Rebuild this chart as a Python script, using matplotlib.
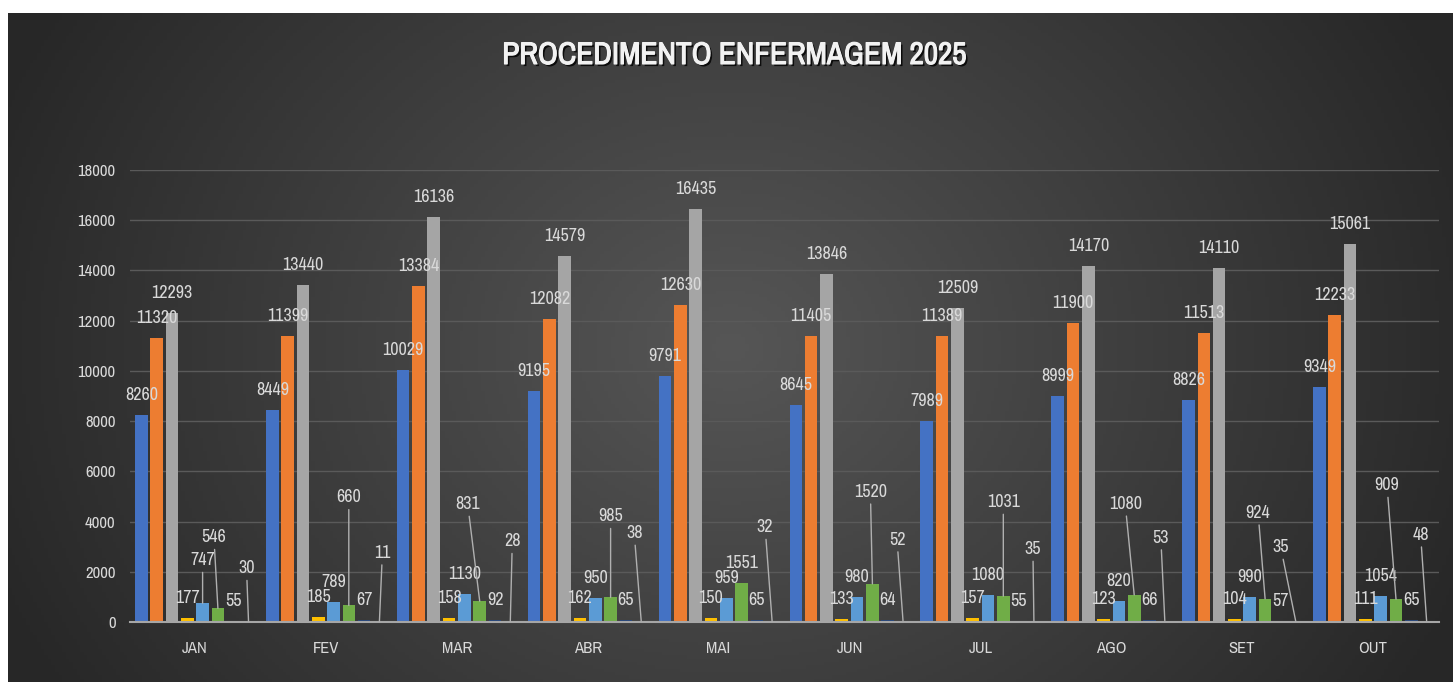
import matplotlib.pyplot as plt
import matplotlib.patheffects as pe
from matplotlib import font_manager
import numpy as np

# dados
meses = ['JAN', 'FEV', 'MAR', 'ABR', 'MAI', 'JUN', 'JUL', 'AGO', 'SET', 'OUT']
serie1 = [8260, 8449, 10029, 9195, 9791, 8645, 7989, 8999, 8826, 9349]
serie2 = [11320, 11399, 13384, 12082, 12630, 11405, 11389, 11900, 11513, 12233]
serie3 = [12293, 13440, 16136, 14579, 16435, 13846, 12509, 14170, 14110, 15061]
serie4 = [177, 185, 158, 162, 150, 133, 157, 123, 104, 111]
serie5 = [747, 789, 1130, 950, 959, 980, 1080, 820, 990, 1054]
serie6 = [546, 660, 831, 985, 1551, 1520, 1031, 1080, 924, 909]
serie7 = [55, 67, 92, 65, 65, 64, 55, 66, 57, 65]
serie8 = [30, 11, 28, 38, 32, 52, 35, 53, 35, 48]
series = [serie1, serie2, serie3, serie4, serie5, serie6, serie7, serie8]

cores = ['#4472C4', '#ED7D31', '#A5A5A5', '#FFC000',
         '#5B9BD5', '#70AD47', '#264478', '#9E480E']

# rotulos deslocados (dx, altura em pixels acima da barra) -> com linha guia
guias = {
    (4, 0): (0, 43),
    (5, 0): (-4, 71), (5, 1): (0, 108), (5, 2): (-12, 97), (5, 3): (0, 81),
    (5, 5): (-2, 92), (5, 6): (0, 94), (5, 7): (-9, 91), (5, 8): (-7, 86),
    (5, 9): (-9, 114),
    (7, 0): (-2, 53), (7, 1): (3, 69), (7, 2): (2, 80), (7, 3): (-7, 88),
    (7, 4): (-7, 94), (7, 5): (-6, 81), (7, 6): (-1, 72), (7, 7): (-4, 83),
    (7, 8): (-15, 74), (7, 9): (-6, 86),
}

# fonte estreita se houver, senao Liberation Sans
nomes = {f.name for f in font_manager.fontManager.ttflist}
estreita = [n for n in nomes if 'Condensed' in n or 'Narrow' in n]
condensada = False
if 'Liberation Sans Narrow' in nomes:
    fonte = ['Liberation Sans Narrow', 'DejaVu Sans']
    condensada = True
elif estreita:
    fonte = [sorted(estreita)[0], 'DejaVu Sans']
    condensada = True
else:
    fonte = ['Liberation Sans', 'DejaVu Sans']

tam_rot = 13 if condensada else 11
tam_eixo = 12 if condensada else 10.5
tam_tit = 22.5 if condensada else 18

cor_texto = '#d9d9d9'

W, H = 1453, 682
fig = plt.figure(figsize=(W / 100, H / 100), dpi=100)
fig.patch.set_facecolor('white')

# fundo com degrade radial
bg = fig.add_axes([8 / W, 0, 1 - 8 / W, 669 / H])
gx, gy = np.meshgrid(np.linspace(0, 1, 400), np.linspace(0, 1, 200))
d = np.sqrt(((gx - 0.5) / 0.55) ** 2 + ((gy - 0.5) / 1.0) ** 2)
d = np.clip(d, 0, 1)
c0 = np.array([0x56, 0x56, 0x56]) / 255
c1 = np.array([0x27, 0x27, 0x27]) / 255
img = c0[None, None, :] * (1 - d[..., None]) + c1[None, None, :] * d[..., None]
bg.imshow(img, aspect='auto', extent=[0, 1, 0, 1], origin='lower')
bg.axis('off')

ax = fig.add_axes([129.5 / W, 60 / H, 1309 / W, 452 / H])
ax.set_facecolor('none')

x = np.arange(len(meses))
slot = 0.1169
largura = 0.0963
for j, (vals, cor) in enumerate(zip(series, cores)):
    pos = x + (j - 3.5) * slot
    ax.bar(pos, vals, width=largura, color=cor, zorder=3)
    for i, v in enumerate(vals):
        if (j, i) in guias:
            dx, dy = guias[(j, i)]
            ax.annotate(str(v), xy=(pos[i], v), xytext=(dx, dy),
                        textcoords='offset pixels', ha='center', va='center',
                        fontsize=tam_rot, family=fonte, color=cor_texto, zorder=5,
                        arrowprops=dict(arrowstyle='-', color='#b0b0b0', lw=1,
                                        shrinkA=1, shrinkB=0))
        else:
            ax.annotate(str(v), xy=(pos[i], v), xytext=(0, 20),
                        textcoords='offset pixels', ha='center', va='center',
                        fontsize=tam_rot, family=fonte, color=cor_texto, zorder=5)

ax.set_xlim(-0.5, len(meses) - 0.5)
ax.set_ylim(0, 18000)
ax.set_yticks(np.arange(0, 18001, 2000))
ax.set_xticks(x)
ax.set_xticklabels(meses)
ax.tick_params(axis='both', length=0, colors=cor_texto, labelsize=tam_eixo)
ax.tick_params(axis='y', pad=10)
ax.tick_params(axis='x', pad=14)
for lb in ax.get_xticklabels() + ax.get_yticklabels():
    lb.set_family(fonte)
ax.grid(axis='y', color='#5a5a5a', lw=1, zorder=0)
for s in ['top', 'right', 'left']:
    ax.spines[s].set_visible(False)
ax.spines['bottom'].set_color('#a6a6a6')
ax.spines['bottom'].set_linewidth(1.5)
ax.spines['bottom'].set_zorder(4)

fig.text(734 / W, 1 - 55 / H, 'PROCEDIMENTO ENFERMAGEM 2025', ha='center',
         va='center', fontsize=tam_tit, fontweight='bold', family=fonte,
         color='#f2f2f2',
         path_effects=[pe.SimplePatchShadow(offset=(1.5, -1.5), alpha=0.8,
                                            shadow_rgbFace='black'),
                       pe.withStroke(linewidth=0.8, foreground='#f2f2f2')])

fig.savefig('out.png', dpi=100)
